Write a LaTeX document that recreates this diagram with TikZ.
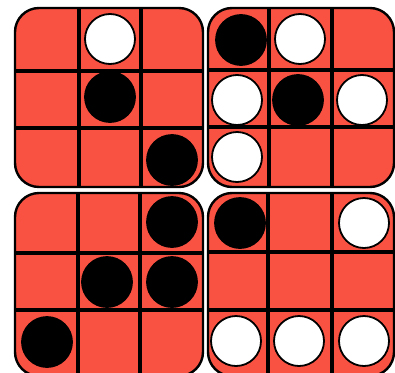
\documentclass[tikz,border=0pt]{standalone}
\definecolor{boardred}{RGB}{250,82,66}
\tikzset{
  quad/.style={draw=black, line width=2.4pt, rounded corners=24pt},
  gridline/.style={draw=black, line width=4pt},
  whitestone/.style={circle, minimum size=50pt, inner sep=0pt, fill=white, draw=black, line width=1.8pt},
  blackstone/.style={circle, minimum size=50pt, inner sep=0pt, fill=black, draw=black, line width=1.8pt},
}
\begin{document}
\begin{tikzpicture}[x=1pt,y=-1pt]
\useasboundingbox (0,0) rectangle (395,372);
% quadrant boards
\fill[boardred, rounded corners=24pt] (15,8) rectangle (203,187);
\fill[boardred, rounded corners=24pt] (208,8) rectangle (394,187);
\fill[boardred, rounded corners=24pt] (15,193) rectangle (203,376);
\fill[boardred, rounded corners=24pt] (208,193) rectangle (394,376);
% grid lines
\draw[gridline] (79,8) -- (79,187) (141,8) -- (141,187) (15,71) -- (203,71) (15,128) -- (203,128);
\draw[gridline] (269,8) -- (269,187) (332,8) -- (332,187) (208,70) -- (394,70) (208,127) -- (394,127);
\draw[gridline] (78,193) -- (78,376) (140,193) -- (140,376) (15,253) -- (203,253) (15,310) -- (203,310);
\draw[gridline] (268,193) -- (268,376) (332,193) -- (332,376) (208,252) -- (394,252) (208,310) -- (394,310);
% borders
\draw[quad] (15,8) rectangle (203,187);
\draw[quad] (208,8) rectangle (394,187);
\draw[quad] (15,193) rectangle (203,376);
\draw[quad] (208,193) rectangle (394,376);
% stones top-left
\node[whitestone] (a1) at (110,39) {};
\node[blackstone] (a2) at (110,97) {};
\node[blackstone] (a3) at (172,160) {};
% stones top-right
\node[blackstone] (b1) at (241,40) {};
\node[whitestone] (b2) at (300,39) {};
\node[whitestone] (b3) at (237,100) {};
\node[blackstone] (b4) at (298,100) {};
\node[whitestone] (b5) at (362,100) {};
\node[whitestone] (b6) at (237,157) {};
% stones bottom-left
\node[blackstone] (c1) at (172,222) {};
\node[blackstone] (c2) at (107,282) {};
\node[blackstone] (c3) at (172,282) {};
\node[blackstone] (c4) at (47,342) {};
% stones bottom-right
\node[blackstone] (d1) at (240,223) {};
\node[whitestone] (d2) at (364,223) {};
\node[whitestone] (d3) at (236,341) {};
\node[whitestone] (d4) at (299,341) {};
\node[whitestone] (d5) at (364,341) {};
\end{tikzpicture}
\end{document}
